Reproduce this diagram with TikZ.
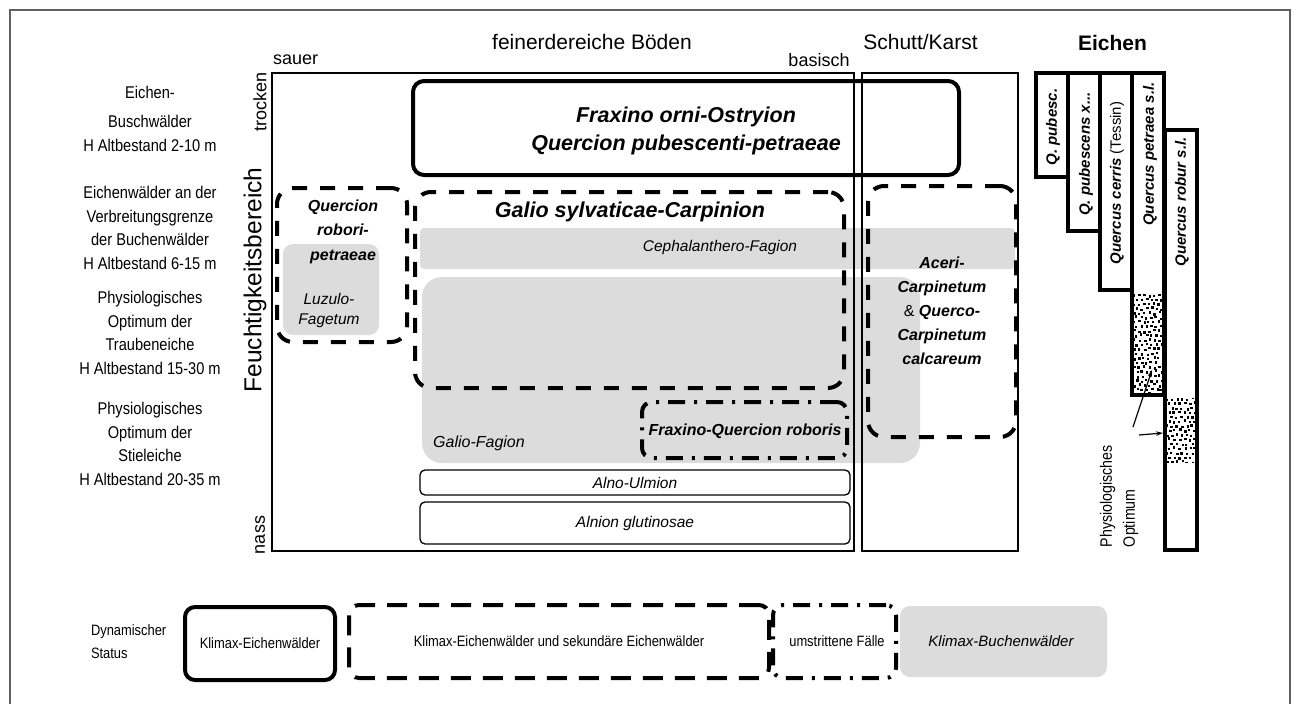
\documentclass[tikz,border=0pt]{standalone}
\usepackage{fontspec}
\setmainfont{Liberation Sans}
\newfontfamily\narf[FakeStretch=0.86]{Liberation Sans}
\usetikzlibrary{arrows.meta}
\definecolor{fillg}{HTML}{DCDCDC}
\definecolor{framec}{HTML}{606060}
\newcommand\fsz[2]{\fontsize{#1}{#2}\selectfont}
\tikzset{
  every node/.style={inner sep=0pt, outer sep=0pt},
  thinframe/.style={draw=black, line width=1.3pt},
  thinround/.style={draw=black, line width=1.3pt, rounded corners=5pt},
  thickbox/.style={draw=black, line width=4pt, rounded corners=11pt},
  dashbox/.style={draw=black, line width=4pt, rounded corners=16pt, dash pattern=on 15pt off 13pt},
  legdash/.style={draw=black, line width=4pt, rounded corners=10pt, dash pattern=on 20pt off 12pt},
  dashdotbox/.style={draw=black, line width=4pt, rounded corners=10pt, dash pattern=on 17pt off 9pt on 3pt off 9pt},
  grayfill/.style={fill=fillg, draw=none, rounded corners=#1},
  oakbar/.style={draw=black, line width=4pt},
  lefttxt/.style={align=center, font=\narf\fsz{17}{23.7}},
  bigtxt/.style={font=\fsz{21}{25}},
  axtxt/.style={font=\fsz{18}{21}},
  bitxt/.style={font=\bfseries\itshape\fsz{#1}{24}},
  ittxt/.style={font=\itshape\fsz{15.5}{20}},
  oaktxt/.style={rotate=90, font=\bfseries\itshape\fsz{15}{18}},
  legtxt/.style={font=\narf\fsz{15}{23}},
  arr/.style={line width=1.2pt, -{Stealth[length=7pt,width=4.5pt]}},
}
\begin{document}
\begin{tikzpicture}[x=1pt, y=-1pt]
\useasboundingbox (0,0) rectangle (1294,704);
% outer frame
\draw[framec, line width=1.5pt] (10,720) -- (10,10) -- (1290,10) -- (1290,720);

% gray fills
\node[grayfill=4pt, minimum width=595pt, minimum height=41pt] (ceph) at (717.5,248.5) {};
\node[grayfill=20pt, minimum width=498pt, minimum height=186pt] (galfag) at (671,370) {};
\node[grayfill=10pt, minimum width=96pt, minimum height=91pt] (luzulo) at (331,289.5) {};

% frames
\node[thinframe, minimum width=582pt, minimum height=478pt] (mainbox) at (563,312) {};
\node[thinframe, minimum width=156pt, minimum height=478pt] (schutt) at (940,312) {};

% header labels
\node[axtxt, anchor=west] (sauer) at (273,60) {sauer};
\node[bigtxt] (feiner) at (592,42) {feinerdereiche Böden};
\node[axtxt] (basisch) at (819,60) {basisch};
\node[bigtxt] (schutttxt) at (920.5,42) {Schutt/Karst};
\node[font=\bfseries\fsz{21}{25}] (eichen) at (1112.5,43) {Eichen};

\node[axtxt, rotate=90] (trocken) at (260,102) {trocken};
\node[axtxt, rotate=90] (nass) at (260,535) {nass};
\node[font=\fsz{24.5}{28}, rotate=90] (feucht) at (255,280) {Feuchtigkeitsbereich};

% left labels
\node[lefttxt] (l1) at (150,119) {Eichen-\\[5pt]Buschwälder\\H Altbestand 2-10 m};
\node[lefttxt] (l2) at (150,228) {Eichenwälder an der\\Verbreitungsgrenze\\der Buchenwälder\\H Altbestand 6-15 m};
\node[lefttxt] (l3) at (150,333) {Physiologisches\\Optimum der\\Traubeneiche\\H Altbestand 15-30 m};
\node[lefttxt] (l4) at (150,444) {Physiologisches\\Optimum der\\Stieleiche\\H Altbestand 20-35 m};

% inner texts
\node[ittxt] (cephtxt) at (720,247) {Cephalanthero-Fagion};
\node[ittxt, font=\itshape\fsz{16}{20}] (galfagtxt) at (479,443) {Galio-Fagion};
\node[ittxt, align=center] (luzulotxt) at (329,310) {Luzulo-\\Fagetum};
\node[bitxt=21.5, align=center, font=\bfseries\itshape\fsz{21.5}{28}] (fraxtxt) at (686,131) {Fraxino orni-Ostryion\\Quercion pubescenti-petraeae};
\node[bitxt=21.5] (galiotxt) at (630,212) {Galio sylvaticae-Carpinion};
\node[bitxt=16, align=center, font=\bfseries\itshape\fsz{16}{24.5}] (qrtxt) at (343,231.5) {Quercion\\robori-\\petraeae};
\node[bitxt=16, align=center, font=\bfseries\itshape\fsz{16}{24}] (acertxt) at (942,311) {Aceri-\\Carpinetum\\{\normalfont\&} Querco-\\Carpinetum\\calcareum};
\node[bitxt=16] (fqrtxt) at (745,431) {Fraxino-Quercion roboris};

% Alno boxes
\node[thinround, minimum width=430pt, minimum height=25pt] (alnoulm) at (635,482.5) {};
\node[ittxt] at (alnoulm) {Alno-Ulmion};
\node[thinround, minimum width=430pt, minimum height=42pt] (alnion) at (635,523) {};
\node[ittxt] at (alnion) {Alnion glutinosae};

% thick boxes
\node[thickbox, minimum width=546pt, minimum height=94pt] (fraxbox) at (686,128) {};
\node[dashbox, minimum width=429pt, minimum height=196pt] (galiobox) at (629.5,290) {};
\node[dashbox, minimum width=130pt, minimum height=154pt] (qrbox) at (342,265) {};
\node[dashbox, minimum width=148pt, minimum height=251pt] (acerbox) at (942,311.5) {};
\node[dashdotbox, minimum width=205pt, minimum height=56pt] (fqrbox) at (744.5,430) {};

% oak bars: stipple
\pgfmathsetseed{7}
\begin{scope}
\clip (1134,294) rectangle (1163,393);
\foreach \i in {0,...,22}{
  \foreach \j in {0,...,6}{
    \pgfmathsetmacro\xx{1133+\j*5+mod(\i,2)*2.5+rand*1.2}
    \pgfmathsetmacro\yy{294+\i*4.5+rand*1.2}
    \fill (\xx,\yy) rectangle ++(2.4,2.4);
  }
}
\end{scope}
\begin{scope}
\clip (1167,398) rectangle (1195,462);
\foreach \i in {0,...,14}{
  \foreach \j in {0,...,6}{
    \pgfmathsetmacro\xx{1166+\j*5+mod(\i,2)*2.5+rand*1.2}
    \pgfmathsetmacro\yy{398+\i*4.5+rand*1.2}
    \fill (\xx,\yy) rectangle ++(2.4,2.4);
  }
}
\end{scope}

\node[oakbar, minimum width=32pt, minimum height=104pt] (qpub) at (1052,125) {};
\node[oakbar, minimum width=32pt, minimum height=158pt] (qpubx) at (1084,152) {};
\node[oakbar, minimum width=32pt, minimum height=217pt] (qcer) at (1116,181.5) {};
\node[oakbar, minimum width=32pt, minimum height=322pt] (qpet) at (1148,234) {};
\node[oakbar, minimum width=32pt, minimum height=420pt] (qrob) at (1181,340) {};

\node[oaktxt] (qpubt) at (1053,127) {Q. pubesc.};
\node[oaktxt] (qpubxt) at (1086,154) {Q. pubescens x...};
\node[oaktxt] (qcert) at (1117,183) {Quercus cerris {\normalfont (Tessin)}};
\node[oaktxt] (qpett) at (1150,154) {Quercus petraea s.l.};
\node[oaktxt] (qrobt) at (1182,202) {Quercus robur s.l.};

\node[rotate=90, anchor=west, align=left, font=\narf\fsz{16.5}{23}] (physopt) at (1119,547) {Physiologisches\\Optimum};
\coordinate (a1s) at (1133,427);
\coordinate (a1e) at (1152,370);
\coordinate (a2s) at (1139,435);
\coordinate (a2e) at (1163,433);
\draw[arr] (a1s) -- (a1e);
\draw[arr] (a2s) -- (a2e);

% legend
\node[legtxt, align=left, anchor=west] (dyn) at (91,641.5) {Dynamischer\\Status};
\node[thickbox, rounded corners=10pt, minimum width=150pt, minimum height=73pt] (leg1) at (260,643.5) {};
\node[legtxt] at (leg1) {Klimax-Eichenwälder};
\node[legdash, minimum width=420pt, minimum height=73pt] (leg2) at (559,641.5) {};
\node[legtxt] at (leg2) {Klimax-Eichenwälder und sekundäre Eichenwälder};
\node[dashdotbox, minimum width=123pt, minimum height=73pt] (leg3) at (834.5,641.5) {};
\node[legtxt] at (837,641.5) {umstrittene Fälle};
\node[grayfill=10pt, minimum width=207pt, minimum height=71pt] (leg4) at (1003.5,641.5) {};
\node[font=\itshape\fsz{15}{18}] at (1001,641.5) {Klimax-Buchenwälder};
\end{tikzpicture}
\end{document}
